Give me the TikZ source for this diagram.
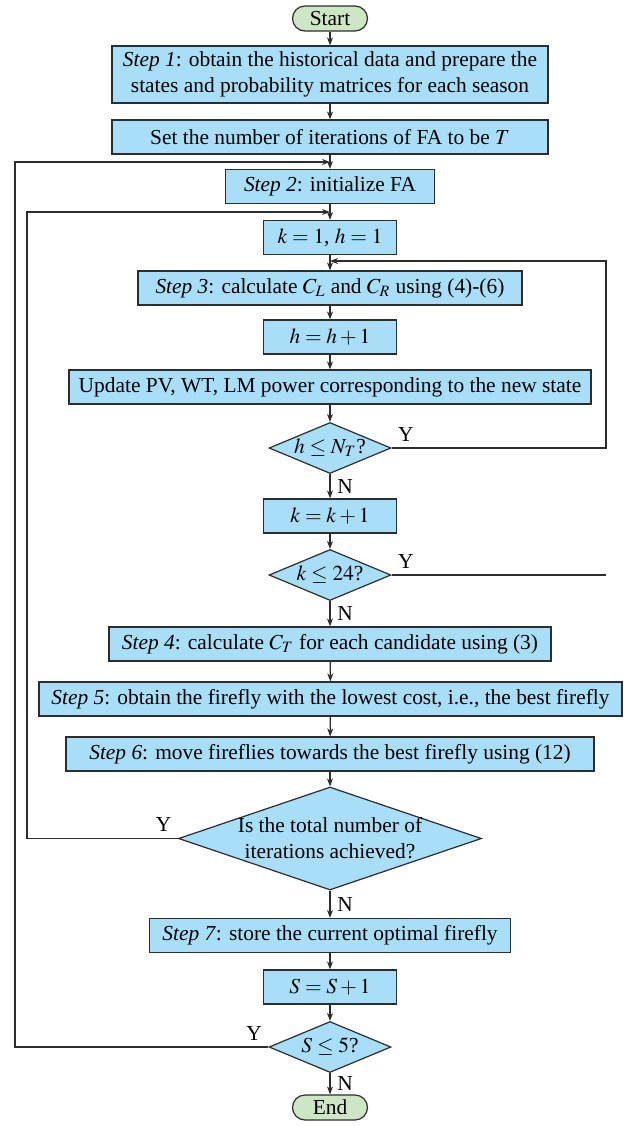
\documentclass[tikz,border=0pt]{standalone}
\usepackage{mathptmx}
\usepackage{fontspec}
\setmainfont{Liberation Serif}
\usepackage{tikz}
\usetikzlibrary{shapes.geometric,arrows.meta}
\definecolor{boxblue}{RGB}{168,222,248}
\definecolor{termgreen}{RGB}{205,230,195}
\definecolor{edgegray}{RGB}{45,45,45}
\newcommand\flowfont{\fontsize{10.7}{13}\selectfont}

\begin{document}
\begin{tikzpicture}[x=0.5pt, y=-0.5pt,
        every node/.style={font=\flowfont},
        proc/.style={draw=edgegray, fill=boxblue, line width=0.6pt, minimum height=17pt, inner sep=1pt, align=center},
        term/.style={draw=edgegray, fill=termgreen, line width=0.6pt, rounded corners=6.25pt, minimum width=37.5pt, minimum height=12.5pt, inner sep=0pt},
        dec/.style={diamond, draw=edgegray, fill=boxblue, line width=0.6pt, minimum width=61pt, minimum height=25.5pt, inner sep=0pt, shape aspect=2.4},
        flow/.style={draw=edgegray, line width=0.6pt, -{Stealth[length=4pt,width=3pt]}},
        plain/.style={draw=edgegray, line width=0.6pt},
        yes/.style={inner sep=3pt}]
            \useasboundingbox (0,0) rectangle (639,1126);
            \node[term] (start) at (330,18.5) {Start};
            \node[proc, minimum width=218pt, minimum height=28.5pt] (s1) at (330,74.5) {\textit{Step 1}: obtain the historical data and prepare the\\ states and probability matrices for each season};
            \node[proc, minimum width=218pt] (iters) at (330,137) {Set the number of iterations of FA to be $T$};
            \node[proc, minimum width=104.5pt] (s2) at (330,186.5) {\textit{Step 2}: initialize FA};
            \node[proc, minimum width=66.5pt] (kh) at (330,237.5) {$k=1$, $h=1$};
            \node[proc, minimum width=192pt] (s3) at (330,288) {\textit{Step 3}: calculate $C_L$ and $C_R$ using (4)-(6)};
            \node[proc, minimum width=66.5pt] (hinc) at (330,337) {$h=h+1$};
            \node[proc, minimum width=261pt] (upd) at (330,387) {Update PV, WT, LM power corresponding to the new state};
            \node[dec] (hchk) at (330,448) {$h\le N_T$?};
            \node[proc, minimum width=66.5pt] (kinc) at (330,516) {$k=k+1$};
            \node[dec] (kchk) at (330,575) {$k\le 24$?};
            \node[proc, minimum width=221pt] (s4) at (330,644) {\textit{Step 4}: calculate $C_T$ for each candidate using (3)};
            \node[proc, minimum width=291.5pt] (s5) at (330.5,699) {\textit{Step 5}: obtain the firefly with the lowest cost, i.e., the best firefly};
            \node[proc, minimum width=264pt] (s6) at (330,754) {\textit{Step 6}: move fireflies towards the best firefly using (12)};
            \node[dec, minimum width=151.5pt, minimum height=51.5pt, shape aspect=3, inner xsep=-8pt, align=center] (itchk) at (330,838.5) {Is the total number of\\ iterations achieved?};
            \node[proc, minimum width=180.5pt] (s7) at (330,935.5) {\textit{Step 7}: store the current optimal firefly};
            \node[proc, minimum width=66.5pt] (sinc) at (330,987) {$S=S+1$};
            \node[dec] (schk) at (330,1047) {$S\le 5$?};
            \node[term] (end) at (330,1107.5) {End};
            % return points of the three loops
            \coordinate (loopR) at (606,261);
            \coordinate (inS3) at (330,261);
            \coordinate (loopL) at (27,212);
            \coordinate (inKh) at (330,212);
            \coordinate (loopO) at (15,162);
            \coordinate (inS2) at (330,162);
            \foreach \a/\b in {start/s1, s1/iters, iters/s2, s2/kh, kh/s3, s3/hinc, hinc/upd, upd/hchk, kinc/kchk, s4/s5, s5/s6, s6/itchk, s7/sinc, sinc/schk}
                \draw[flow] (\a) -- (\b);
            \draw[flow] (hchk) -- node[right] {N} (kinc);
            \draw[flow] (kchk) -- node[right] {N} (s4);
            \draw[flow] (itchk) -- node[right] {N} (s7);
            \draw[flow] (schk) -- node[right] {N} (end);
            \draw[flow] (hchk.east) node[yes, above right] {Y} -- (hchk.east -| loopR) -- (loopR) -- (inS3);
            \draw[plain] (kchk.east) node[yes, above right] {Y} -- (kchk.east -| loopR);
            \draw[flow] (itchk.west) node[yes, above left] {Y} -| (loopL) -- (inKh);
            \draw[flow] (schk.west) node[yes, above left] {Y} -| (loopO) -- (inS2);
\end{tikzpicture}
\end{document}
